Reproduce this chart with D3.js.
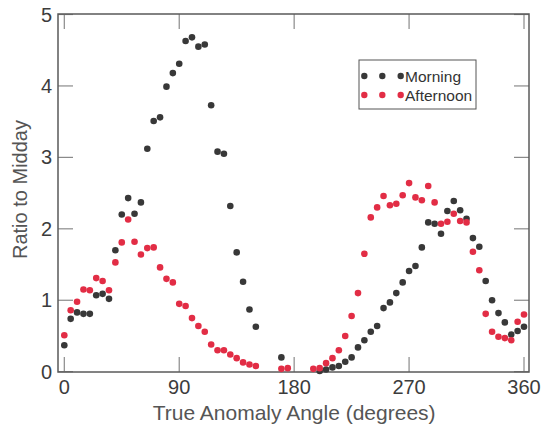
<!DOCTYPE html>
<html>
<head>
<meta charset="utf-8">
<script src="https://cdn.jsdelivr.net/npm/d3@7"></script>
<style>
  body { margin: 0; background: #fff; }
  text { font-family: "Liberation Sans", Arial, sans-serif; }
</style>
</head>
<body>
<svg id="chart" width="541" height="425"></svg>
<script>

// Data (null = no point)

var angles = [0, 5, 10, 15, 20, 25, 30, 35, 40, 45, 50, 55, 60, 65, 70, 75, 80, 85,
              90, 95, 100, 105, 110, 115, 120, 125, 130, 135, 140, 145, 150, 155, 160, 165, 170, 175,
              180, 185, 190, 195, 200, 205, 210, 215, 220, 225, 230, 235, 240, 245, 250, 255, 260, 265,
              270, 275, 280, 285, 290, 295, 300, 305, 310, 315, 320, 325, 330, 335, 340, 345, 350, 355, 360];

var morning = [0.37, 0.74, 0.83, 0.81, 0.81, 1.07, 1.09, 1.02, 1.70, 2.20, 2.43, 2.21, 2.37, 3.12, 3.51, 3.56, 3.99, 4.18,
               4.31, 4.63, 4.68, 4.55, 4.58, 3.73, 3.08, 3.05, 2.32, 1.67, 1.26, 0.87, 0.63, null, null, null, 0.20, null,
               null, null, null, null, 0.01, 0.03, 0.06, 0.08, 0.14, 0.20, 0.34, 0.44, 0.56, 0.64, 0.89, 0.97, 1.10, 1.25,
               1.41, 1.48, 1.74, 2.09, 2.07, 1.93, 2.25, 2.39, 2.26, 2.14, 1.87, 1.75, 1.27, 1.00, 0.82, 0.69, 0.52, 0.57, 0.63];

var afternoon = [0.51, 0.86, 0.98, 1.15, 1.14, 1.31, 1.27, 1.14, 1.53, 1.81, 2.13, 1.82, 1.64, 1.73, 1.74, 1.46, 1.30, 1.25,
                 0.95, 0.92, 0.75, 0.64, 0.56, 0.38, 0.30, 0.30, 0.24, 0.19, 0.13, 0.10, 0.08, null, null, null, 0.04, 0.05,
                 null, null, null, 0.04, 0.05, 0.12, 0.19, 0.30, 0.50, 0.78, 1.10, 1.65, 2.16, 2.30, 2.46, 2.33, 2.35, 2.47,
                 2.64, 2.44, 2.40, 2.60, 2.37, 2.07, 2.10, 2.21, 2.11, 2.09, 1.68, 1.42, 0.81, 0.56, 0.49, 0.47, 0.44, 0.70, 0.80];

var xTicks = [0, 90, 180, 270, 360],
    yTicks = [0, 1, 2, 3, 4, 5];

var series = [
  { name: "Morning",   values: morning,   color: "#383838" },
  { name: "Afternoon", values: afternoon, color: "#e22d45" }
];

// Layout

var svg = d3.select("#chart");

var frame = { left: 58, top: 14, right: 529, bottom: 372 },
    tickLen = 15;

var x = d3.scaleLinear().domain([0, 360]).range([64.3, 524]),
    y = d3.scaleLinear().domain([0, 5]).range([371.7, 14.5]);

// Ticks, drawn inside the frame on all four sides

var ticks = svg.append("g")
  .attr("stroke", "#8a8a8a")
  .attr("stroke-width", 1.2);

xTicks.forEach(function(d) {
  ticks.append("line")
    .attr("x1", x(d)).attr("x2", x(d))
    .attr("y1", frame.bottom).attr("y2", frame.bottom - tickLen);
  ticks.append("line")
    .attr("x1", x(d)).attr("x2", x(d))
    .attr("y1", frame.top).attr("y2", frame.top + tickLen);
});

yTicks.forEach(function(d) {
  ticks.append("line")
    .attr("x1", frame.left).attr("x2", frame.left + tickLen)
    .attr("y1", y(d)).attr("y2", y(d));
  ticks.append("line")
    .attr("x1", frame.right).attr("x2", frame.right - tickLen)
    .attr("y1", y(d)).attr("y2", y(d));
});

svg.append("rect")
  .attr("x", frame.left)
  .attr("y", frame.top)
  .attr("width", frame.right - frame.left)
  .attr("height", frame.bottom - frame.top)
  .attr("fill", "none")
  .attr("stroke", "#5a5a5a")
  .attr("stroke-width", 1.5);

// Tick labels

svg.append("g").selectAll("text")
  .data(xTicks)
  .enter()
  .append("text")
  .attr("x", function(d) { return x(d); })
  .attr("y", 394)
  .attr("text-anchor", "middle")
  .style("font-size", "20px")
  .style("fill", "#3c3c3c")
  .text(function(d) { return d; });

svg.append("g").selectAll("text")
  .data(yTicks)
  .enter()
  .append("text")
  .attr("x", 52)
  .attr("y", function(d) { return y(d) + 7; })
  .attr("text-anchor", "end")
  .style("font-size", "20px")
  .style("fill", "#3c3c3c")
  .text(function(d) { return d; });

// Axis titles

svg.append("text")
  .attr("x", x(180))
  .attr("y", 420)
  .attr("text-anchor", "middle")
  .style("font-size", "21px")
  .style("fill", "#555")
  .text("True Anomaly Angle (degrees)");

svg.append("text")
  .attr("transform", "translate(27," + y(2.55) + ") rotate(-90)")
  .attr("text-anchor", "middle")
  .style("font-size", "20px")
  .style("fill", "#555")
  .text("Ratio to Midday");

// Points

series.forEach(function(s) {
  svg.append("g")
    .attr("fill", s.color)
    .selectAll("circle")
    .data(angles.map(function(a, i) { return [a, s.values[i]]; })
                .filter(function(d) { return d[1] !== null; }))
    .enter()
    .append("circle")
    .attr("cx", function(d) { return x(d[0]); })
    .attr("cy", function(d) { return y(d[1]); })
    .attr("r", 3.3);
});

// Legend

var legend = svg.append("g").attr("transform", "translate(359,60)");

legend.append("rect")
  .attr("width", 117)
  .attr("height", 49)
  .attr("fill", "#fff")
  .attr("stroke", "#555")
  .attr("stroke-width", 1);

var rows = legend.selectAll(".legend")
  .data(series)
  .enter()
  .append("g")
  .attr("class", "legend")
  .attr("transform", function(d, i) { return "translate(0," + (16 + i * 19) + ")"; });

[5.3, 23.3, 41.7].forEach(function(cx) {
  rows.append("circle")
    .attr("cx", cx)
    .attr("cy", 0)
    .attr("r", 3.2)
    .attr("fill", function(d) { return d.color; });
});

rows.append("text")
  .attr("x", 46)
  .attr("y", 5.5)
  .style("font-size", "15.5px")
  .style("fill", "#333")
  .text(function(d) { return d.name; });

</script>
</body>
</html>
